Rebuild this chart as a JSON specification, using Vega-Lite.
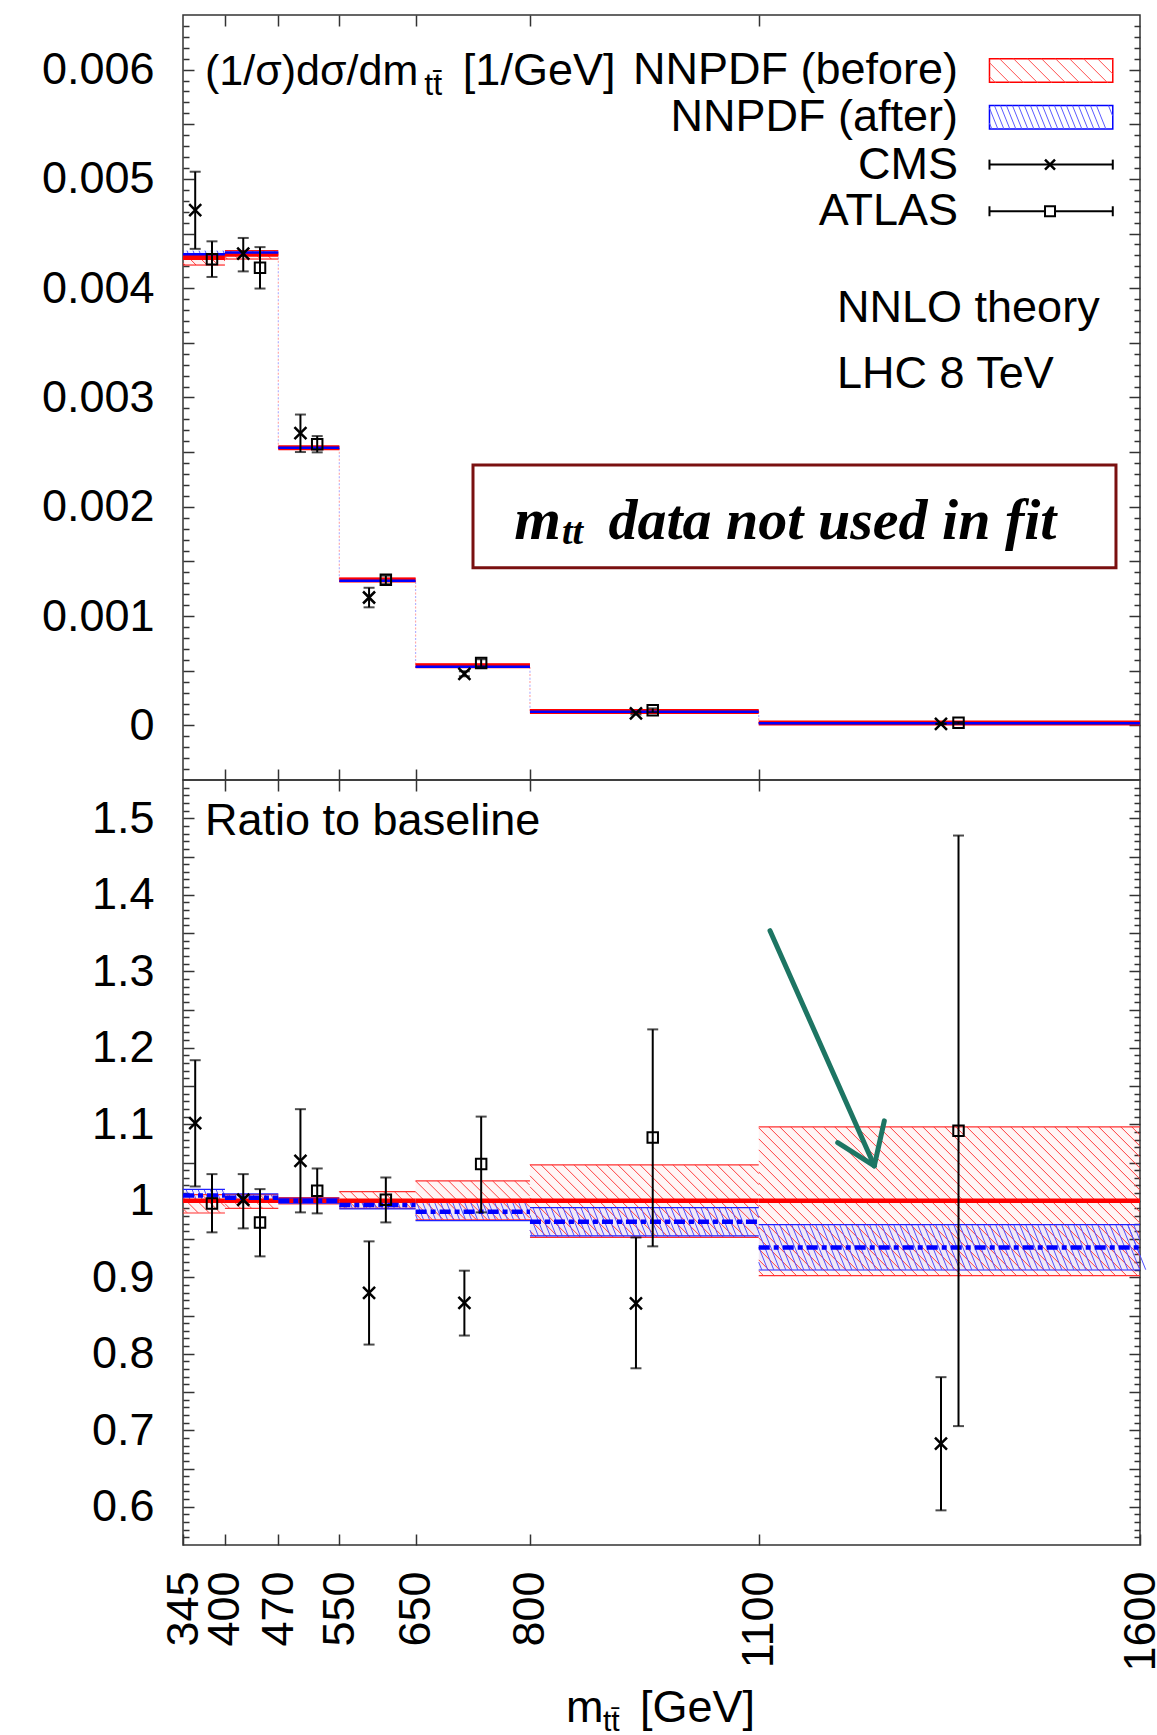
{
  "$schema": "https://vega.github.io/schema/vega-lite/v6.json",
  "autosize": {"type": "pad"},
  "padding": {"left": 40, "top": 13, "right": 18, "bottom": 4},
  "background": "white",
  "config": {
    "view": {"stroke": "#333333", "strokeWidth": 1.5},
    "font": "Liberation Sans",
    "text": {"font": "Liberation Sans", "fontSize": 45, "color": "black"},
    "point": {"opacity": 1},
    "axis": {"grid": false, "domain": false, "labelFont": "Liberation Sans", "labelFontSize": 45, "labelColor": "black", "tickColor": "#333333", "tickWidth": 1.5, "labelOverlap": false, "labelFlush": false, "labelBound": false, "minExtent": 0}
  },
  "datasets": {
    "theory": [
      {"lo": 345, "hi": 400, "b": 0.00428, "b_lo": 0.004212, "b_hi": 0.004314, "a": 0.00431, "a_lo": 0.004271, "a_hi": 0.004344, "rb_lo": 0.984, "rb_hi": 1.008, "ra": 1.007, "ra_lo": 0.998, "ra_hi": 1.015},
      {"lo": 400, "hi": 470, "b": 0.00431, "b_lo": 0.004267, "b_hi": 0.004344, "a": 0.004327, "a_lo": 0.004301, "a_hi": 0.004349, "rb_lo": 0.99, "rb_hi": 1.008, "ra": 1.004, "ra_lo": 0.998, "ra_hi": 1.009},
      {"lo": 470, "hi": 550, "b": 0.00254, "b_lo": 0.00253, "b_hi": 0.00255, "a": 0.00254, "a_lo": 0.002532, "a_hi": 0.002548, "rb_lo": 0.996, "rb_hi": 1.004, "ra": 1.0, "ra_lo": 0.997, "ra_hi": 1.003},
      {"lo": 550, "hi": 650, "b": 0.00133, "b_lo": 0.001317, "b_hi": 0.001346, "a": 0.001323, "a_lo": 0.001316, "a_hi": 0.00133, "rb_lo": 0.99, "rb_hi": 1.012, "ra": 0.9944, "ra_lo": 0.9895, "ra_hi": 1.0},
      {"lo": 650, "hi": 800, "b": 0.000545, "b_lo": 0.000531, "b_hi": 0.000559, "a": 0.000537, "a_lo": 0.000531, "a_hi": 0.000544, "rb_lo": 0.975, "rb_hi": 1.026, "ra": 0.9856, "ra_lo": 0.974, "ra_hi": 0.998},
      {"lo": 800, "hi": 1100, "b": 0.000127, "b_lo": 0.000121, "b_hi": 0.000133, "a": 0.0001235, "a_lo": 0.0001212, "a_hi": 0.0001259, "rb_lo": 0.952, "rb_hi": 1.047, "ra": 0.9726, "ra_lo": 0.954, "ra_hi": 0.991},
      {"lo": 1100, "hi": 1600, "b": 0.000021, "b_lo": 0.0000189, "b_hi": 0.000023, "a": 0.0000197, "a_lo": 0.0000191, "a_hi": 0.0000203, "rb_lo": 0.902, "rb_hi": 1.0966, "ra": 0.939, "ra_lo": 0.9095, "ra_hi": 0.9687}
    ],
    "points": [
      {"exp": "CMS", "m": 361, "v": 0.004714, "lo": 0.00436, "hi": 0.005066, "r": 1.1014, "r_lo": 1.0187, "r_hi": 1.1837},
      {"exp": "CMS", "m": 424, "v": 0.004316, "lo": 0.004154, "hi": 0.00446, "r": 1.0013, "r_lo": 0.9639, "r_hi": 1.0348},
      {"exp": "CMS", "m": 499, "v": 0.002673, "lo": 0.002501, "hi": 0.002844, "r": 1.0522, "r_lo": 0.9848, "r_hi": 1.1197},
      {"exp": "CMS", "m": 589, "v": 0.00117, "lo": 0.00108, "hi": 0.001259, "r": 0.8795, "r_lo": 0.812, "r_hi": 0.9469},
      {"exp": "CMS", "m": 714, "v": 0.000472, "lo": 0.000449, "hi": 0.000495, "r": 0.8664, "r_lo": 0.8238, "r_hi": 0.9086},
      {"exp": "CMS", "m": 939, "v": 0.00011, "lo": 0.0000992, "hi": 0.0001209, "r": 0.866, "r_lo": 0.781, "r_hi": 0.952},
      {"exp": "CMS", "m": 1339, "v": 0.0000143, "lo": 0.0000125, "hi": 0.0000162, "r": 0.6824, "r_lo": 0.5953, "r_hi": 0.7694},
      {"exp": "ATLAS", "m": 383, "v": 0.004265, "lo": 0.004103, "hi": 0.004429, "r": 0.9965, "r_lo": 0.9587, "r_hi": 1.0348},
      {"exp": "ATLAS", "m": 446, "v": 0.004188, "lo": 0.003997, "hi": 0.004376, "r": 0.9717, "r_lo": 0.9273, "r_hi": 1.0152},
      {"exp": "ATLAS", "m": 521, "v": 0.002573, "lo": 0.002498, "hi": 0.002647, "r": 1.013, "r_lo": 0.9835, "r_hi": 1.0422},
      {"exp": "ATLAS", "m": 611, "v": 0.001332, "lo": 0.001292, "hi": 0.00137, "r": 1.0013, "r_lo": 0.9717, "r_hi": 1.0304},
      {"exp": "ATLAS", "m": 736, "v": 0.000571, "lo": 0.000537, "hi": 0.000605, "r": 1.0479, "r_lo": 0.9848, "r_hi": 1.11},
      {"exp": "ATLAS", "m": 961, "v": 0.0001375, "lo": 0.0001194, "hi": 0.0001554, "r": 1.0826, "r_lo": 0.9404, "r_hi": 1.224},
      {"exp": "ATLAS", "m": 1362, "v": 0.0000229, "lo": 0.0000148, "hi": 0.000031, "r": 1.0914, "r_lo": 0.7054, "r_hi": 1.4774}
    ]
  },
  "spacing": 0,
  "bounds": "flush",
  "vconcat": [
    {
      "width": 957,
      "height": 765,
      "resolve": {"axis": {"x": "independent", "y": "independent"}},
      "layer": [
        {
          "data": {"name": "theory"},
          "mark": {"type": "rect", "fill": "#ff0000", "fillOpacity": 0.05},
          "encoding": {
            "x": {"field": "lo", "type": "quantitative", "scale": {"domain": [345, 1600], "nice": false, "zero": false},
              "axis": {"orient": "top", "values": [400, 470, 550, 650, 800, 1100], "tickSize": -11, "labels": false, "title": null}},
            "x2": {"field": "hi"},
            "y": {"field": "b_lo", "type": "quantitative", "scale": {"domain": [-0.0005, 0.0065], "nice": false, "zero": false},
              "axis": {"orient": "left", "title": null, "format": "~g", "labelPadding": 40,
                "values": [-0.0004,-0.0003,-0.0002,-0.0001,0,0.0001,0.0002,0.0003,0.0004,0.0005,0.0006,0.0007,0.0008,0.0009,0.001,0.0011,0.0012,0.0013,0.0014,0.0015,0.0016,0.0017,0.0018,0.0019,0.002,0.0021,0.0022,0.0023,0.0024,0.0025,0.0026,0.0027,0.0028,0.0029,0.003,0.0031,0.0032,0.0033,0.0034,0.0035,0.0036,0.0037,0.0038,0.0039,0.004,0.0041,0.0042,0.0043,0.0044,0.0045,0.0046,0.0047,0.0048,0.0049,0.005,0.0051,0.0052,0.0053,0.0054,0.0055,0.0056,0.0057,0.0058,0.0059,0.006,0.0061,0.0062,0.0063,0.0064],
                "tickSize": {"condition": {"test": "abs(datum.value*2000-round(datum.value*2000))<0.001", "value": -11}, "value": -6},
                "labelFontSize": {"condition": {"test": "abs(datum.value*1000-round(datum.value*1000))<0.001", "value": 45}, "value": 0},
                "labelExpr": "abs(datum.value*1000-round(datum.value*1000))<0.001 ? datum.label : ''"}},
            "y2": {"field": "b_hi"}
          }
        },
        {
          "data": {"name": "theory"},
          "mark": {"type": "rect", "fill": "#0000ff", "fillOpacity": 0.06},
          "encoding": {
            "x": {"field": "lo", "type": "quantitative", "scale": {"domain": [345, 1600], "nice": false, "zero": false},
              "axis": {"orient": "bottom", "values": [400, 470, 550, 650, 800, 1100], "tickSize": -11, "labels": false, "title": null}},
            "x2": {"field": "hi"},
            "y": {"field": "a_lo", "type": "quantitative", "scale": {"domain": [-0.0005, 0.0065], "nice": false, "zero": false},
              "axis": {"orient": "right", "title": null, "labels": false,
                "values": [-0.0004,-0.0003,-0.0002,-0.0001,0,0.0001,0.0002,0.0003,0.0004,0.0005,0.0006,0.0007,0.0008,0.0009,0.001,0.0011,0.0012,0.0013,0.0014,0.0015,0.0016,0.0017,0.0018,0.0019,0.002,0.0021,0.0022,0.0023,0.0024,0.0025,0.0026,0.0027,0.0028,0.0029,0.003,0.0031,0.0032,0.0033,0.0034,0.0035,0.0036,0.0037,0.0038,0.0039,0.004,0.0041,0.0042,0.0043,0.0044,0.0045,0.0046,0.0047,0.0048,0.0049,0.005,0.0051,0.0052,0.0053,0.0054,0.0055,0.0056,0.0057,0.0058,0.0059,0.006,0.0061,0.0062,0.0063,0.0064],
                "tickSize": {"condition": {"test": "abs(datum.value*2000-round(datum.value*2000))<0.001", "value": -11}, "value": -6}}},
            "y2": {"field": "a_hi"}
          }
        },
        {
          "data": {"name": "theory"},
          "transform": [{"filter": "datum.lo == 345"}],
          "mark": {"type": "point", "size": 4, "filled": false, "stroke": "#ff4040", "strokeWidth": 1, "opacity": 1,
            "shape": "M0,9L2,11M2,0L13,11M13,0L24,11M24,0L35,11M35,0L42,7"},
          "encoding": {
            "x": {"field": "lo", "type": "quantitative", "scale": {"domain": [345, 1600], "nice": false, "zero": false}, "axis": null},
            "y": {"field": "b_hi", "type": "quantitative", "scale": {"domain": [-0.0005, 0.0065], "nice": false, "zero": false}, "axis": null}
          }
        },
        {
          "data": {"name": "theory"},
          "transform": [{"filter": "datum.lo == 400"}],
          "mark": {"type": "point", "size": 4, "filled": false, "stroke": "#ff4040", "strokeWidth": 1, "opacity": 1,
            "shape": "M0,6L2.4,8.4M5,0L13.4,8.4M16,0L24.4,8.4M27,0L35.4,8.4M38,0L46.4,8.4M49,0L53,4"},
          "encoding": {
            "x": {"field": "lo", "type": "quantitative", "scale": {"domain": [345, 1600], "nice": false, "zero": false}, "axis": null},
            "y": {"field": "b_hi", "type": "quantitative", "scale": {"domain": [-0.0005, 0.0065], "nice": false, "zero": false}, "axis": null}
          }
        },
        {
          "data": {"name": "theory"},
          "transform": [{"filter": "datum.lo == 345"}],
          "mark": {"type": "point", "size": 4, "filled": false, "stroke": "#5050ff", "strokeWidth": 1, "opacity": 1,
            "shape": "M0,5L1.2,8M4,0l3.2,8m2.8,-8l3.2,8m2.8,-8l3.2,8m2.8,-8l3.2,8m2.8,-8l3.2,8m2.8,-8l3.2,8M40,0L42,5"},
          "encoding": {
            "x": {"field": "lo", "type": "quantitative", "scale": {"domain": [345, 1600], "nice": false, "zero": false}, "axis": null},
            "y": {"field": "a_hi", "type": "quantitative", "scale": {"domain": [-0.0005, 0.0065], "nice": false, "zero": false}, "axis": null}
          }
        },
        {
          "data": {"name": "theory"},
          "mark": {"type": "line", "interpolate": "step-after", "color": "#ff7070", "strokeWidth": 1.2, "strokeDash": [2, 5], "opacity": 0.6},
          "encoding": {
            "x": {"field": "lo", "type": "quantitative", "scale": {"domain": [345, 1600], "nice": false, "zero": false}, "axis": null},
            "y": {"field": "b", "type": "quantitative", "scale": {"domain": [-0.0005, 0.0065], "nice": false, "zero": false}, "axis": null}
          }
        },
        {
          "data": {"name": "theory"},
          "mark": {"type": "line", "interpolate": "step-after", "color": "#8080ff", "strokeWidth": 1.2, "strokeDash": [2, 5], "strokeDashOffset": 3, "opacity": 0.6},
          "encoding": {
            "x": {"field": "lo", "type": "quantitative", "scale": {"domain": [345, 1600], "nice": false, "zero": false}, "axis": null},
            "y": {"field": "a", "type": "quantitative", "scale": {"domain": [-0.0005, 0.0065], "nice": false, "zero": false}, "axis": null}
          }
        },
        {
          "data": {"name": "theory"},
          "mark": {"type": "rule", "color": "#ff0000", "strokeWidth": 1},
          "encoding": {
            "x": {"field": "lo", "type": "quantitative", "scale": {"domain": [345, 1600], "nice": false, "zero": false}, "axis": null},
            "x2": {"field": "hi"},
            "y": {"field": "b_lo", "type": "quantitative", "scale": {"domain": [-0.0005, 0.0065], "nice": false, "zero": false}, "axis": null}
          }
        },
        {
          "data": {"name": "theory"},
          "mark": {"type": "rule", "color": "#ff0000", "strokeWidth": 1},
          "encoding": {
            "x": {"field": "lo", "type": "quantitative", "scale": {"domain": [345, 1600], "nice": false, "zero": false}, "axis": null},
            "x2": {"field": "hi"},
            "y": {"field": "b_hi", "type": "quantitative", "scale": {"domain": [-0.0005, 0.0065], "nice": false, "zero": false}, "axis": null}
          }
        },
        {
          "data": {"name": "theory"},
          "mark": {"type": "rule", "color": "#ff0000", "strokeWidth": 5},
          "encoding": {
            "x": {"field": "lo", "type": "quantitative", "scale": {"domain": [345, 1600], "nice": false, "zero": false}, "axis": null},
            "x2": {"field": "hi"},
            "y": {"field": "b", "type": "quantitative", "scale": {"domain": [-0.0005, 0.0065], "nice": false, "zero": false}, "axis": null}
          }
        },
        {
          "data": {"name": "theory"},
          "mark": {"type": "rule", "color": "#0000ff", "strokeWidth": 2.5},
          "encoding": {
            "x": {"field": "lo", "type": "quantitative", "scale": {"domain": [345, 1600], "nice": false, "zero": false}, "axis": null},
            "x2": {"field": "hi"},
            "y": {"field": "a", "type": "quantitative", "scale": {"domain": [-0.0005, 0.0065], "nice": false, "zero": false}, "axis": null}
          }
        },
        {
          "data": {"name": "points"},
          "mark": {"type": "rule", "color": "black", "strokeWidth": 2},
          "encoding": {
            "x": {"field": "m", "type": "quantitative", "scale": {"domain": [345, 1600], "nice": false, "zero": false}, "axis": null},
            "y": {"field": "lo", "type": "quantitative", "scale": {"domain": [-0.0005, 0.0065], "nice": false, "zero": false}, "axis": null},
            "y2": {"field": "hi"}
          }
        },
        {
          "data": {"name": "points"},
          "mark": {"type": "tick", "orient": "horizontal", "color": "black", "size": 11, "thickness": 2},
          "encoding": {
            "x": {"field": "m", "type": "quantitative", "scale": {"domain": [345, 1600], "nice": false, "zero": false}, "axis": null},
            "y": {"field": "lo", "type": "quantitative", "scale": {"domain": [-0.0005, 0.0065], "nice": false, "zero": false}, "axis": null}
          }
        },
        {
          "data": {"name": "points"},
          "mark": {"type": "tick", "orient": "horizontal", "color": "black", "size": 11, "thickness": 2},
          "encoding": {
            "x": {"field": "m", "type": "quantitative", "scale": {"domain": [345, 1600], "nice": false, "zero": false}, "axis": null},
            "y": {"field": "hi", "type": "quantitative", "scale": {"domain": [-0.0005, 0.0065], "nice": false, "zero": false}, "axis": null}
          }
        },
        {
          "data": {"name": "points"},
          "transform": [{"filter": "datum.exp == 'CMS'"}],
          "mark": {"type": "point", "shape": "M-1,-1L1,1M1,-1L-1,1", "size": 144, "filled": false, "stroke": "black", "strokeWidth": 2.5, "opacity": 1},
          "encoding": {
            "x": {"field": "m", "type": "quantitative", "scale": {"domain": [345, 1600], "nice": false, "zero": false}, "axis": null},
            "y": {"field": "v", "type": "quantitative", "scale": {"domain": [-0.0005, 0.0065], "nice": false, "zero": false}, "axis": null}
          }
        },
        {
          "data": {"name": "points"},
          "transform": [{"filter": "datum.exp == 'ATLAS'"}],
          "mark": {"type": "point", "shape": "square", "size": 110, "filled": false, "stroke": "black", "strokeWidth": 2, "opacity": 1},
          "encoding": {
            "x": {"field": "m", "type": "quantitative", "scale": {"domain": [345, 1600], "nice": false, "zero": false}, "axis": null},
            "y": {"field": "v", "type": "quantitative", "scale": {"domain": [-0.0005, 0.0065], "nice": false, "zero": false}, "axis": null}
          }
        },
        {
          "data": {"values": [{}]},
          "mark": {"type": "text", "text": "(1/σ)dσ/dm", "align": "left", "baseline": "alphabetic", "fontSize": 43},
          "encoding": {
            "x": {"datum": 373.9, "type": "quantitative", "scale": {"domain": [345, 1600], "nice": false, "zero": false}, "axis": null},
            "y": {"datum": 0.0058628, "type": "quantitative", "scale": {"domain": [-0.0005, 0.0065], "nice": false, "zero": false}, "axis": null}
          }
        },
        {
          "data": {"values": [{}]},
          "mark": {"type": "text", "text": "tt\u0304", "align": "left", "baseline": "alphabetic", "fontSize": 32},
          "encoding": {
            "x": {"datum": 661.5, "type": "quantitative", "scale": {"domain": [345, 1600], "nice": false, "zero": false}, "axis": null},
            "y": {"datum": 0.005765, "type": "quantitative", "scale": {"domain": [-0.0005, 0.0065], "nice": false, "zero": false}, "axis": null}
          }
        },
        {
          "data": {"values": [{}]},
          "mark": {"type": "text", "text": "[1/GeV]", "align": "left", "baseline": "alphabetic", "fontSize": 45},
          "encoding": {
            "x": {"datum": 712.0, "type": "quantitative", "scale": {"domain": [345, 1600], "nice": false, "zero": false}, "axis": null},
            "y": {"datum": 0.0058628, "type": "quantitative", "scale": {"domain": [-0.0005, 0.0065], "nice": false, "zero": false}, "axis": null}
          }
        },
        {
          "data": {"values": [{}]},
          "mark": {"type": "text", "text": "NNPDF (before)", "align": "right", "baseline": "middle", "fontSize": 45},
          "encoding": {
            "x": {"datum": 1361.3, "type": "quantitative", "scale": {"domain": [345, 1600], "nice": false, "zero": false}, "axis": null},
            "y": {"datum": 0.005994, "type": "quantitative", "scale": {"domain": [-0.0005, 0.0065], "nice": false, "zero": false}, "axis": null}
          }
        },
        {
          "data": {"values": [{}]},
          "mark": {"type": "text", "text": "NNPDF (after)", "align": "right", "baseline": "middle", "fontSize": 45},
          "encoding": {
            "x": {"datum": 1361.3, "type": "quantitative", "scale": {"domain": [345, 1600], "nice": false, "zero": false}, "axis": null},
            "y": {"datum": 0.005564, "type": "quantitative", "scale": {"domain": [-0.0005, 0.0065], "nice": false, "zero": false}, "axis": null}
          }
        },
        {
          "data": {"values": [{}]},
          "mark": {"type": "text", "text": "CMS", "align": "right", "baseline": "middle", "fontSize": 45},
          "encoding": {
            "x": {"datum": 1361.3, "type": "quantitative", "scale": {"domain": [345, 1600], "nice": false, "zero": false}, "axis": null},
            "y": {"datum": 0.005131, "type": "quantitative", "scale": {"domain": [-0.0005, 0.0065], "nice": false, "zero": false}, "axis": null}
          }
        },
        {
          "data": {"values": [{}]},
          "mark": {"type": "text", "text": "ATLAS", "align": "right", "baseline": "middle", "fontSize": 45},
          "encoding": {
            "x": {"datum": 1361.3, "type": "quantitative", "scale": {"domain": [345, 1600], "nice": false, "zero": false}, "axis": null},
            "y": {"datum": 0.0047042, "type": "quantitative", "scale": {"domain": [-0.0005, 0.0065], "nice": false, "zero": false}, "axis": null}
          }
        },
        {
          "data": {"values": [{}]},
          "mark": {"type": "rect", "fill": "white", "stroke": "#ff0000", "strokeWidth": 1.5},
          "encoding": {
            "x": {"datum": 1402.6, "type": "quantitative", "scale": {"domain": [345, 1600], "nice": false, "zero": false}, "axis": null},
            "x2": {"datum": 1564.3},
            "y": {"datum": 0.0058839, "type": "quantitative", "scale": {"domain": [-0.0005, 0.0065], "nice": false, "zero": false}, "axis": null},
            "y2": {"datum": 0.0061006}
          }
        },
        {
          "data": {"values": [{}]},
          "mark": {"type": "point", "size": 4, "filled": false, "stroke": "#ff5050", "strokeWidth": 1, "opacity": 1,
            "shape": "M0,18L6,24M0,4L20,24M10,0l24,24m-10,-24l24,24m-10,-24l24,24m-10,-24l24,24m-10,-24l24,24m-10,-24l24,24m-10,-24l24,24M108,0L123,15M122,0L123,1"},
          "encoding": {
            "x": {"datum": 1402.6, "type": "quantitative", "scale": {"domain": [345, 1600], "nice": false, "zero": false}, "axis": null},
            "y": {"datum": 0.0061006, "type": "quantitative", "scale": {"domain": [-0.0005, 0.0065], "nice": false, "zero": false}, "axis": null}
          }
        },
        {
          "data": {"values": [{}]},
          "mark": {"type": "rect", "fill": "white", "stroke": "#0000ff", "strokeWidth": 1.5},
          "encoding": {
            "x": {"datum": 1402.6, "type": "quantitative", "scale": {"domain": [345, 1600], "nice": false, "zero": false}, "axis": null},
            "x2": {"datum": 1564.3},
            "y": {"datum": 0.005457, "type": "quantitative", "scale": {"domain": [-0.0005, 0.0065], "nice": false, "zero": false}, "axis": null},
            "y2": {"datum": 0.005671}
          }
        },
        {
          "data": {"values": [{}]},
          "mark": {"type": "point", "size": 4, "filled": false, "stroke": "#5a5aff", "strokeWidth": 1, "opacity": 1,
            "shape": "M0,17.5L2.4,23.4M0,2.5L8.4,23.4M5,0l9.4,23.4m-3.4,-23.4l9.4,23.4m-3.4,-23.4l9.4,23.4m-3.4,-23.4l9.4,23.4m-3.4,-23.4l9.4,23.4m-3.4,-23.4l9.4,23.4m-3.4,-23.4l9.4,23.4m-3.4,-23.4l9.4,23.4m-3.4,-23.4l9.4,23.4m-3.4,-23.4l9.4,23.4m-3.4,-23.4l9.4,23.4m-3.4,-23.4l9.4,23.4m-3.4,-23.4l9.4,23.4m-3.4,-23.4l9.4,23.4m-3.4,-23.4l9.4,23.4m-3.4,-23.4l9.4,23.4m-3.4,-23.4l9.4,23.4m-3.4,-23.4l9.4,23.4M119,0L123,10"},
          "encoding": {
            "x": {"datum": 1402.6, "type": "quantitative", "scale": {"domain": [345, 1600], "nice": false, "zero": false}, "axis": null},
            "y": {"datum": 0.005671, "type": "quantitative", "scale": {"domain": [-0.0005, 0.0065], "nice": false, "zero": false}, "axis": null}
          }
        },
        {
          "data": {"values": [{}]},
          "mark": {"type": "rule", "color": "black", "strokeWidth": 2},
          "encoding": {
            "x": {"datum": 1402.6, "type": "quantitative", "scale": {"domain": [345, 1600], "nice": false, "zero": false}, "axis": null},
            "x2": {"datum": 1564.3},
            "y": {"datum": 0.005131, "type": "quantitative", "scale": {"domain": [-0.0005, 0.0065], "nice": false, "zero": false}, "axis": null}
          }
        },
        {
          "data": {"values": [{}]},
          "mark": {"type": "rule", "color": "black", "strokeWidth": 2},
          "encoding": {
            "x": {"datum": 1402.6, "type": "quantitative", "scale": {"domain": [345, 1600], "nice": false, "zero": false}, "axis": null},
            "y": {"datum": 0.0050853, "type": "quantitative", "scale": {"domain": [-0.0005, 0.0065], "nice": false, "zero": false}, "axis": null},
            "y2": {"datum": 0.0051767}
          }
        },
        {
          "data": {"values": [{}]},
          "mark": {"type": "rule", "color": "black", "strokeWidth": 2},
          "encoding": {
            "x": {"datum": 1564.3, "type": "quantitative", "scale": {"domain": [345, 1600], "nice": false, "zero": false}, "axis": null},
            "y": {"datum": 0.0050853, "type": "quantitative", "scale": {"domain": [-0.0005, 0.0065], "nice": false, "zero": false}, "axis": null},
            "y2": {"datum": 0.0051767}
          }
        },
        {
          "data": {"values": [{}]},
          "mark": {"type": "point", "shape": "M-1,-1L1,1M1,-1L-1,1", "size": 100, "filled": false, "stroke": "black", "strokeWidth": 2.5, "opacity": 1},
          "encoding": {
            "x": {"datum": 1482, "type": "quantitative", "scale": {"domain": [345, 1600], "nice": false, "zero": false}, "axis": null},
            "y": {"datum": 0.005131, "type": "quantitative", "scale": {"domain": [-0.0005, 0.0065], "nice": false, "zero": false}, "axis": null}
          }
        },
        {
          "data": {"values": [{}]},
          "mark": {"type": "rule", "color": "black", "strokeWidth": 2},
          "encoding": {
            "x": {"datum": 1402.6, "type": "quantitative", "scale": {"domain": [345, 1600], "nice": false, "zero": false}, "axis": null},
            "x2": {"datum": 1564.3},
            "y": {"datum": 0.0047042, "type": "quantitative", "scale": {"domain": [-0.0005, 0.0065], "nice": false, "zero": false}, "axis": null}
          }
        },
        {
          "data": {"values": [{}]},
          "mark": {"type": "rule", "color": "black", "strokeWidth": 2},
          "encoding": {
            "x": {"datum": 1402.6, "type": "quantitative", "scale": {"domain": [345, 1600], "nice": false, "zero": false}, "axis": null},
            "y": {"datum": 0.0046585, "type": "quantitative", "scale": {"domain": [-0.0005, 0.0065], "nice": false, "zero": false}, "axis": null},
            "y2": {"datum": 0.0047499}
          }
        },
        {
          "data": {"values": [{}]},
          "mark": {"type": "rule", "color": "black", "strokeWidth": 2},
          "encoding": {
            "x": {"datum": 1564.3, "type": "quantitative", "scale": {"domain": [345, 1600], "nice": false, "zero": false}, "axis": null},
            "y": {"datum": 0.0046585, "type": "quantitative", "scale": {"domain": [-0.0005, 0.0065], "nice": false, "zero": false}, "axis": null},
            "y2": {"datum": 0.0047499}
          }
        },
        {
          "data": {"values": [{}]},
          "mark": {"type": "point", "shape": "square", "size": 100, "filled": true, "fill": "white", "stroke": "black", "strokeWidth": 2, "opacity": 1},
          "encoding": {
            "x": {"datum": 1482, "type": "quantitative", "scale": {"domain": [345, 1600], "nice": false, "zero": false}, "axis": null},
            "y": {"datum": 0.0047042, "type": "quantitative", "scale": {"domain": [-0.0005, 0.0065], "nice": false, "zero": false}, "axis": null}
          }
        },
        {
          "data": {"values": [{}]},
          "mark": {"type": "text", "text": "NNLO theory", "align": "left", "baseline": "middle", "fontSize": 45},
          "encoding": {
            "x": {"datum": 1202.7, "type": "quantitative", "scale": {"domain": [345, 1600], "nice": false, "zero": false}, "axis": null},
            "y": {"datum": 0.00382, "type": "quantitative", "scale": {"domain": [-0.0005, 0.0065], "nice": false, "zero": false}, "axis": null}
          }
        },
        {
          "data": {"values": [{}]},
          "mark": {"type": "text", "text": "LHC 8 TeV", "align": "left", "baseline": "middle", "fontSize": 45},
          "encoding": {
            "x": {"datum": 1202.7, "type": "quantitative", "scale": {"domain": [345, 1600], "nice": false, "zero": false}, "axis": null},
            "y": {"datum": 0.0032135, "type": "quantitative", "scale": {"domain": [-0.0005, 0.0065], "nice": false, "zero": false}, "axis": null}
          }
        },
        {
          "data": {"values": [{}]},
          "mark": {"type": "rect", "fill": "transparent", "stroke": "#7a1010", "strokeWidth": 3},
          "encoding": {
            "x": {"datum": 725.3, "type": "quantitative", "scale": {"domain": [345, 1600], "nice": false, "zero": false}, "axis": null},
            "x2": {"datum": 1568.5},
            "y": {"datum": 0.0014418, "type": "quantitative", "scale": {"domain": [-0.0005, 0.0065], "nice": false, "zero": false}, "axis": null},
            "y2": {"datum": 0.0023814}
          }
        },
        {
          "data": {"values": [{}]},
          "mark": {"type": "text", "text": "m", "align": "left", "baseline": "alphabetic", "font": "Liberation Serif", "fontStyle": "italic", "fontWeight": "bold", "fontSize": 60},
          "encoding": {
            "x": {"datum": 779.3, "type": "quantitative", "scale": {"domain": [345, 1600], "nice": false, "zero": false}, "axis": null},
            "y": {"datum": 0.0017017, "type": "quantitative", "scale": {"domain": [-0.0005, 0.0065], "nice": false, "zero": false}, "axis": null}
          }
        },
        {
          "data": {"values": [{}]},
          "mark": {"type": "text", "text": "tt", "align": "left", "baseline": "alphabetic", "font": "Liberation Serif", "fontStyle": "italic", "fontWeight": "bold", "fontSize": 38},
          "encoding": {
            "x": {"datum": 842.0, "type": "quantitative", "scale": {"domain": [345, 1600], "nice": false, "zero": false}, "axis": null},
            "y": {"datum": 0.0016589, "type": "quantitative", "scale": {"domain": [-0.0005, 0.0065], "nice": false, "zero": false}, "axis": null}
          }
        },
        {
          "data": {"values": [{}]},
          "mark": {"type": "text", "text": "data not used in fit", "align": "left", "baseline": "alphabetic", "font": "Liberation Serif", "fontStyle": "italic", "fontWeight": "bold", "fontSize": 58},
          "encoding": {
            "x": {"datum": 903.0, "type": "quantitative", "scale": {"domain": [345, 1600], "nice": false, "zero": false}, "axis": null},
            "y": {"datum": 0.0017017, "type": "quantitative", "scale": {"domain": [-0.0005, 0.0065], "nice": false, "zero": false}, "axis": null}
          }
        }
      ]
    },
    {
      "width": 957,
      "height": 765,
      "resolve": {"axis": {"x": "independent", "y": "independent"}},
      "layer": [
        {
          "data": {"name": "theory"},
          "mark": {"type": "rect", "fill": "#ff0000", "fillOpacity": 0.04},
          "encoding": {
            "x": {"field": "lo", "type": "quantitative", "scale": {"domain": [345, 1600], "nice": false, "zero": false},
              "axis": {"orient": "top", "values": [400, 470, 550, 650, 800, 1100], "tickSize": -11, "labels": false, "title": null}},
            "x2": {"field": "hi"},
            "y": {"field": "rb_lo", "type": "quantitative", "scale": {"domain": [0.55, 1.55], "nice": false, "zero": false},
              "axis": {"orient": "left", "title": null, "format": "~g", "labelPadding": 40,
                "values": [0.56,0.57,0.58,0.59,0.6,0.61,0.62,0.63,0.64,0.65,0.66,0.67,0.68,0.69,0.7,0.71,0.72,0.73,0.74,0.75,0.76,0.77,0.78,0.79,0.8,0.81,0.82,0.83,0.84,0.85,0.86,0.87,0.88,0.89,0.9,0.91,0.92,0.93,0.94,0.95,0.96,0.97,0.98,0.99,1,1.01,1.02,1.03,1.04,1.05,1.06,1.07,1.08,1.09,1.1,1.11,1.12,1.13,1.14,1.15,1.16,1.17,1.18,1.19,1.2,1.21,1.22,1.23,1.24,1.25,1.26,1.27,1.28,1.29,1.3,1.31,1.32,1.33,1.34,1.35,1.36,1.37,1.38,1.39,1.4,1.41,1.42,1.43,1.44,1.45,1.46,1.47,1.48,1.49,1.5,1.51,1.52,1.53,1.54],
                "tickSize": {"condition": {"test": "abs(datum.value*20-round(datum.value*20))<0.001", "value": -11}, "value": -6},
                "labelFontSize": {"condition": {"test": "abs(datum.value*10-round(datum.value*10))<0.001", "value": 45}, "value": 0},
                "labelExpr": "abs(datum.value*10-round(datum.value*10))<0.001 ? datum.label : ''"}},
            "y2": {"field": "rb_hi"}
          }
        },
        {
          "data": {"name": "theory"},
          "mark": {"type": "rect", "fill": "#0000ff", "fillOpacity": 0.05},
          "encoding": {
            "x": {"field": "lo", "type": "quantitative", "scale": {"domain": [345, 1600], "nice": false, "zero": false},
              "axis": {"orient": "bottom", "values": [345, 400, 470, 550, 650, 800, 1100, 1600], "format": "d", "tickSize": -11, "labelAngle": 270, "labelAlign": "right", "labelBaseline": "middle", "labelPadding": 37, "title": null}},
            "x2": {"field": "hi"},
            "y": {"field": "ra_lo", "type": "quantitative", "scale": {"domain": [0.55, 1.55], "nice": false, "zero": false},
              "axis": {"orient": "right", "title": null, "labels": false,
                "values": [0.56,0.57,0.58,0.59,0.6,0.61,0.62,0.63,0.64,0.65,0.66,0.67,0.68,0.69,0.7,0.71,0.72,0.73,0.74,0.75,0.76,0.77,0.78,0.79,0.8,0.81,0.82,0.83,0.84,0.85,0.86,0.87,0.88,0.89,0.9,0.91,0.92,0.93,0.94,0.95,0.96,0.97,0.98,0.99,1,1.01,1.02,1.03,1.04,1.05,1.06,1.07,1.08,1.09,1.1,1.11,1.12,1.13,1.14,1.15,1.16,1.17,1.18,1.19,1.2,1.21,1.22,1.23,1.24,1.25,1.26,1.27,1.28,1.29,1.3,1.31,1.32,1.33,1.34,1.35,1.36,1.37,1.38,1.39,1.4,1.41,1.42,1.43,1.44,1.45,1.46,1.47,1.48,1.49,1.5,1.51,1.52,1.53,1.54],
                "tickSize": {"condition": {"test": "abs(datum.value*20-round(datum.value*20))<0.001", "value": -11}, "value": -6}}},
            "y2": {"field": "ra_hi"}
          }
        },
        {
          "data": {"name": "theory"},
          "transform": [{"filter": "datum.lo == 345"}],
          "mark": {"type": "point", "size": 4, "filled": false, "stroke": "#ff4040", "strokeWidth": 1, "opacity": 1,
            "shape": "M0,14L4,18M0,3L15,18M8,0L26,18M19,0L37,18M30,0L42,12M41,0L42,1"},
          "encoding": {
            "x": {"field": "lo", "type": "quantitative", "scale": {"domain": [345, 1600], "nice": false, "zero": false}, "axis": null},
            "y": {"field": "rb_hi", "type": "quantitative", "scale": {"domain": [0.55, 1.55], "nice": false, "zero": false}, "axis": null}
          }
        },
        {
          "data": {"name": "theory"},
          "transform": [{"filter": "datum.lo == 400"}],
          "mark": {"type": "point", "size": 4, "filled": false, "stroke": "#ff4040", "strokeWidth": 1, "opacity": 1,
            "shape": "M0,9L5,14M2,0L16,14M13,0L27,14M24,0L38,14M35,0L49,14M46,0L53,7"},
          "encoding": {
            "x": {"field": "lo", "type": "quantitative", "scale": {"domain": [345, 1600], "nice": false, "zero": false}, "axis": null},
            "y": {"field": "rb_hi", "type": "quantitative", "scale": {"domain": [0.55, 1.55], "nice": false, "zero": false}, "axis": null}
          }
        },
        {
          "data": {"name": "theory"},
          "transform": [{"filter": "datum.lo == 470"}],
          "mark": {"type": "point", "size": 4, "filled": false, "stroke": "#ff4040", "strokeWidth": 1, "opacity": 1,
            "shape": "M0,3L3,6M8,0L14,6M19,0L25,6M30,0L36,6M41,0L47,6M52,0L58,6"},
          "encoding": {
            "x": {"field": "lo", "type": "quantitative", "scale": {"domain": [345, 1600], "nice": false, "zero": false}, "axis": null},
            "y": {"field": "rb_hi", "type": "quantitative", "scale": {"domain": [0.55, 1.55], "nice": false, "zero": false}, "axis": null}
          }
        },
        {
          "data": {"name": "theory"},
          "transform": [{"filter": "datum.lo == 550"}],
          "mark": {"type": "point", "size": 4, "filled": false, "stroke": "#ff4040", "strokeWidth": 1, "opacity": 1,
            "shape": "M0,11L6,17M0,0L17,17M11,0L28,17M22,0L39,17M33,0L50,17M44,0L61,17M55,0L72,17M66,0L76,10"},
          "encoding": {
            "x": {"field": "lo", "type": "quantitative", "scale": {"domain": [345, 1600], "nice": false, "zero": false}, "axis": null},
            "y": {"field": "rb_hi", "type": "quantitative", "scale": {"domain": [0.55, 1.55], "nice": false, "zero": false}, "axis": null}
          }
        },
        {
          "data": {"name": "theory"},
          "transform": [{"filter": "datum.lo == 650"}],
          "mark": {"type": "point", "size": 4, "filled": false, "stroke": "#ff4040", "strokeWidth": 1, "opacity": 1,
            "shape": "M0,33L6,39M0,22L17,39M0,11L28,39M0,0L39,39M11,0l39,39m-28,-39l39,39m-28,-39l39,39m-28,-39l39,39m-28,-39l39,39m-28,-39l39,39M77,0L114,37M88,0L114,26M99,0L114,15M110,0L114,4"},
          "encoding": {
            "x": {"field": "lo", "type": "quantitative", "scale": {"domain": [345, 1600], "nice": false, "zero": false}, "axis": null},
            "y": {"field": "rb_hi", "type": "quantitative", "scale": {"domain": [0.55, 1.55], "nice": false, "zero": false}, "axis": null}
          }
        },
        {
          "data": {"name": "theory"},
          "transform": [{"filter": "datum.lo == 800"}],
          "mark": {"type": "point", "size": 4, "filled": false, "stroke": "#ff4040", "strokeWidth": 1, "opacity": 1,
            "shape": "M0,66L7,73M0,55L18,73M0,44L29,73M0,33L40,73M0,22L51,73M0,11L62,73M0,0L73,73M11,0l73,73m-62,-73l73,73m-62,-73l73,73m-62,-73l73,73m-62,-73l73,73m-62,-73l73,73m-62,-73l73,73m-62,-73l73,73m-62,-73l73,73m-62,-73l73,73m-62,-73l73,73m-62,-73l73,73m-62,-73l73,73m-62,-73l73,73M165,0L229,64M176,0L229,53M187,0L229,42M198,0L229,31M209,0L229,20M220,0L229,9"},
          "encoding": {
            "x": {"field": "lo", "type": "quantitative", "scale": {"domain": [345, 1600], "nice": false, "zero": false}, "axis": null},
            "y": {"field": "rb_hi", "type": "quantitative", "scale": {"domain": [0.55, 1.55], "nice": false, "zero": false}, "axis": null}
          }
        },
        {
          "data": {"name": "theory"},
          "transform": [{"filter": "datum.lo == 1100"}],
          "mark": {"type": "point", "size": 4, "filled": false, "stroke": "#ff4040", "strokeWidth": 1, "opacity": 1,
            "shape": "M0,144L5,149M0,133L16,149M0,122L27,149M0,111L38,149M0,100L49,149M0,89L60,149M0,78L71,149M0,67L82,149M0,56L93,149M0,45L104,149M0,34L115,149M0,23L126,149M0,12L137,149M0,1L148,149M10,0l149,149m-138,-149l149,149m-138,-149l149,149m-138,-149l149,149m-138,-149l149,149m-138,-149l149,149m-138,-149l149,149m-138,-149l149,149m-138,-149l149,149m-138,-149l149,149m-138,-149l149,149m-138,-149l149,149m-138,-149l149,149m-138,-149l149,149m-138,-149l149,149m-138,-149l149,149m-138,-149l149,149m-138,-149l149,149m-138,-149l149,149m-138,-149l149,149m-138,-149l149,149M241,0L381,140M252,0L381,129M263,0L381,118M274,0L381,107M285,0L381,96M296,0L381,85M307,0L381,74M318,0L381,63M329,0L381,52M340,0L381,41M351,0L381,30M362,0L381,19M373,0L381,8"},
          "encoding": {
            "x": {"field": "lo", "type": "quantitative", "scale": {"domain": [345, 1600], "nice": false, "zero": false}, "axis": null},
            "y": {"field": "rb_hi", "type": "quantitative", "scale": {"domain": [0.55, 1.55], "nice": false, "zero": false}, "axis": null}
          }
        },
        {
          "data": {"name": "theory"},
          "transform": [{"filter": "datum.lo == 345"}],
          "mark": {"type": "point", "size": 4, "filled": false, "stroke": "#5050ff", "strokeWidth": 1, "opacity": 1,
            "shape": "M0,7.5L2.2,13M3,0l5.2,13m0.8,-13l5.2,13m0.8,-13l5.2,13m0.8,-13l5.2,13m0.8,-13l5.2,13m0.8,-13l5.2,13M39,0L42,7.5"},
          "encoding": {
            "x": {"field": "lo", "type": "quantitative", "scale": {"domain": [345, 1600], "nice": false, "zero": false}, "axis": null},
            "y": {"field": "ra_hi", "type": "quantitative", "scale": {"domain": [0.55, 1.55], "nice": false, "zero": false}, "axis": null}
          }
        },
        {
          "data": {"name": "theory"},
          "transform": [{"filter": "datum.lo == 400"}],
          "mark": {"type": "point", "size": 4, "filled": false, "stroke": "#5050ff", "strokeWidth": 1, "opacity": 1,
            "shape": "M0,5L1.2,8M4,0l3.2,8m2.8,-8l3.2,8m2.8,-8l3.2,8m2.8,-8l3.2,8m2.8,-8l3.2,8m2.8,-8l3.2,8m2.8,-8l3.2,8m2.8,-8l3.2,8M52,0L53,2.5"},
          "encoding": {
            "x": {"field": "lo", "type": "quantitative", "scale": {"domain": [345, 1600], "nice": false, "zero": false}, "axis": null},
            "y": {"field": "ra_hi", "type": "quantitative", "scale": {"domain": [0.55, 1.55], "nice": false, "zero": false}, "axis": null}
          }
        },
        {
          "data": {"name": "theory"},
          "transform": [{"filter": "datum.lo == 470"}],
          "mark": {"type": "point", "size": 4, "filled": false, "stroke": "#5050ff", "strokeWidth": 1, "opacity": 1,
            "shape": "M0,0l1.84,4.6m4.16,-4.6l1.84,4.6m4.16,-4.6l1.84,4.6m4.16,-4.6l1.84,4.6m4.16,-4.6l1.84,4.6m4.16,-4.6l1.84,4.6m4.16,-4.6l1.84,4.6m4.16,-4.6l1.84,4.6m4.16,-4.6l1.84,4.6m4.16,-4.6l1.84,4.6M60,0L61,2.5"},
          "encoding": {
            "x": {"field": "lo", "type": "quantitative", "scale": {"domain": [345, 1600], "nice": false, "zero": false}, "axis": null},
            "y": {"field": "ra_hi", "type": "quantitative", "scale": {"domain": [0.55, 1.55], "nice": false, "zero": false}, "axis": null}
          }
        },
        {
          "data": {"name": "theory"},
          "transform": [{"filter": "datum.lo == 550"}],
          "mark": {"type": "point", "size": 4, "filled": false, "stroke": "#5050ff", "strokeWidth": 1, "opacity": 1,
            "shape": "M0,5L1.2,8M4,0l3.2,8m2.8,-8l3.2,8m2.8,-8l3.2,8m2.8,-8l3.2,8m2.8,-8l3.2,8m2.8,-8l3.2,8m2.8,-8l3.2,8m2.8,-8l3.2,8m2.8,-8l3.2,8m2.8,-8l3.2,8m2.8,-8l3.2,8m2.8,-8l3.2,8"},
          "encoding": {
            "x": {"field": "lo", "type": "quantitative", "scale": {"domain": [345, 1600], "nice": false, "zero": false}, "axis": null},
            "y": {"field": "ra_hi", "type": "quantitative", "scale": {"domain": [0.55, 1.55], "nice": false, "zero": false}, "axis": null}
          }
        },
        {
          "data": {"name": "theory"},
          "transform": [{"filter": "datum.lo == 650"}],
          "mark": {"type": "point", "size": 4, "filled": false, "stroke": "#5050ff", "strokeWidth": 1, "opacity": 1,
            "shape": "M0,12.5L2.2,18M1,0l7.2,18m-1.2,-18l7.2,18m-1.2,-18l7.2,18m-1.2,-18l7.2,18m-1.2,-18l7.2,18m-1.2,-18l7.2,18m-1.2,-18l7.2,18m-1.2,-18l7.2,18m-1.2,-18l7.2,18m-1.2,-18l7.2,18m-1.2,-18l7.2,18m-1.2,-18l7.2,18m-1.2,-18l7.2,18m-1.2,-18l7.2,18m-1.2,-18l7.2,18m-1.2,-18l7.2,18m-1.2,-18l7.2,18m-1.2,-18l7.2,18M109,0L114,12.5"},
          "encoding": {
            "x": {"field": "lo", "type": "quantitative", "scale": {"domain": [345, 1600], "nice": false, "zero": false}, "axis": null},
            "y": {"field": "ra_hi", "type": "quantitative", "scale": {"domain": [0.55, 1.55], "nice": false, "zero": false}, "axis": null}
          }
        },
        {
          "data": {"name": "theory"},
          "transform": [{"filter": "datum.lo == 800"}],
          "mark": {"type": "point", "size": 4, "filled": false, "stroke": "#5050ff", "strokeWidth": 1, "opacity": 1,
            "shape": "M0,22.5L2.2,28M0,7.5L8.2,28M3,0l11.2,28m-5.2,-28l11.2,28m-5.2,-28l11.2,28m-5.2,-28l11.2,28m-5.2,-28l11.2,28m-5.2,-28l11.2,28m-5.2,-28l11.2,28m-5.2,-28l11.2,28m-5.2,-28l11.2,28m-5.2,-28l11.2,28m-5.2,-28l11.2,28m-5.2,-28l11.2,28m-5.2,-28l11.2,28m-5.2,-28l11.2,28m-5.2,-28l11.2,28m-5.2,-28l11.2,28m-5.2,-28l11.2,28m-5.2,-28l11.2,28m-5.2,-28l11.2,28m-5.2,-28l11.2,28m-5.2,-28l11.2,28m-5.2,-28l11.2,28m-5.2,-28l11.2,28m-5.2,-28l11.2,28m-5.2,-28l11.2,28m-5.2,-28l11.2,28m-5.2,-28l11.2,28m-5.2,-28l11.2,28m-5.2,-28l11.2,28m-5.2,-28l11.2,28m-5.2,-28l11.2,28m-5.2,-28l11.2,28m-5.2,-28l11.2,28m-5.2,-28l11.2,28m-5.2,-28l11.2,28M219,0L229,25M225,0L229,10"},
          "encoding": {
            "x": {"field": "lo", "type": "quantitative", "scale": {"domain": [345, 1600], "nice": false, "zero": false}, "axis": null},
            "y": {"field": "ra_hi", "type": "quantitative", "scale": {"domain": [0.55, 1.55], "nice": false, "zero": false}, "axis": null}
          }
        },
        {
          "data": {"name": "theory"},
          "transform": [{"filter": "datum.lo == 1100"}],
          "mark": {"type": "point", "size": 4, "filled": false, "stroke": "#5050ff", "strokeWidth": 1, "opacity": 1,
            "shape": "M0,37.5L3,45M0,22.5L9,45M0,7.5L15,45M3,0l18,45m-12,-45l18,45m-12,-45l18,45m-12,-45l18,45m-12,-45l18,45m-12,-45l18,45m-12,-45l18,45m-12,-45l18,45m-12,-45l18,45m-12,-45l18,45m-12,-45l18,45m-12,-45l18,45m-12,-45l18,45m-12,-45l18,45m-12,-45l18,45m-12,-45l18,45m-12,-45l18,45m-12,-45l18,45m-12,-45l18,45m-12,-45l18,45m-12,-45l18,45m-12,-45l18,45m-12,-45l18,45m-12,-45l18,45m-12,-45l18,45m-12,-45l18,45m-12,-45l18,45m-12,-45l18,45m-12,-45l18,45m-12,-45l18,45m-12,-45l18,45m-12,-45l18,45m-12,-45l18,45m-12,-45l18,45m-12,-45l18,45m-12,-45l18,45m-12,-45l18,45m-12,-45l18,45m-12,-45l18,45m-12,-45l18,45m-12,-45l18,45m-12,-45l18,45m-12,-45l18,45m-12,-45l18,45m-12,-45l18,45m-12,-45l18,45m-12,-45l18,45m-12,-45l18,45m-12,-45l18,45m-12,-45l18,45m-12,-45l18,45m-12,-45l18,45m-12,-45l18,45m-12,-45l18,45m-12,-45l18,45m-12,-45l18,45m-12,-45l18,45m-12,-45l18,45m-12,-45l18,45m-12,-45l18,45m-12,-45l18,45m-12,-45l18,45M369,0L381,30M375,0L381,15"},
          "encoding": {
            "x": {"field": "lo", "type": "quantitative", "scale": {"domain": [345, 1600], "nice": false, "zero": false}, "axis": null},
            "y": {"field": "ra_hi", "type": "quantitative", "scale": {"domain": [0.55, 1.55], "nice": false, "zero": false}, "axis": null}
          }
        },
        {
          "data": {"name": "theory"},
          "mark": {"type": "rule", "color": "#ff3030", "strokeWidth": 1.2},
          "encoding": {
            "x": {"field": "lo", "type": "quantitative", "scale": {"domain": [345, 1600], "nice": false, "zero": false}, "axis": null},
            "x2": {"field": "hi"},
            "y": {"field": "rb_lo", "type": "quantitative", "scale": {"domain": [0.55, 1.55], "nice": false, "zero": false}, "axis": null}
          }
        },
        {
          "data": {"name": "theory"},
          "mark": {"type": "rule", "color": "#ff3030", "strokeWidth": 1.2},
          "encoding": {
            "x": {"field": "lo", "type": "quantitative", "scale": {"domain": [345, 1600], "nice": false, "zero": false}, "axis": null},
            "x2": {"field": "hi"},
            "y": {"field": "rb_hi", "type": "quantitative", "scale": {"domain": [0.55, 1.55], "nice": false, "zero": false}, "axis": null}
          }
        },
        {
          "data": {"name": "theory"},
          "mark": {"type": "rule", "color": "#2020ff", "strokeWidth": 1.2},
          "encoding": {
            "x": {"field": "lo", "type": "quantitative", "scale": {"domain": [345, 1600], "nice": false, "zero": false}, "axis": null},
            "x2": {"field": "hi"},
            "y": {"field": "ra_lo", "type": "quantitative", "scale": {"domain": [0.55, 1.55], "nice": false, "zero": false}, "axis": null}
          }
        },
        {
          "data": {"name": "theory"},
          "mark": {"type": "rule", "color": "#2020ff", "strokeWidth": 1.2},
          "encoding": {
            "x": {"field": "lo", "type": "quantitative", "scale": {"domain": [345, 1600], "nice": false, "zero": false}, "axis": null},
            "x2": {"field": "hi"},
            "y": {"field": "ra_hi", "type": "quantitative", "scale": {"domain": [0.55, 1.55], "nice": false, "zero": false}, "axis": null}
          }
        },
        {
          "data": {"name": "theory"},
          "mark": {"type": "rule", "color": "#ff0000", "strokeWidth": 4.5},
          "encoding": {
            "x": {"field": "lo", "type": "quantitative", "scale": {"domain": [345, 1600], "nice": false, "zero": false}, "axis": null},
            "x2": {"field": "hi"},
            "y": {"datum": 1, "type": "quantitative", "scale": {"domain": [0.55, 1.55], "nice": false, "zero": false}, "axis": null}
          }
        },
        {
          "data": {"name": "theory"},
          "mark": {"type": "rule", "color": "#0000ff", "strokeWidth": 4.5, "strokeDash": [11, 4, 5, 4]},
          "encoding": {
            "x": {"field": "lo", "type": "quantitative", "scale": {"domain": [345, 1600], "nice": false, "zero": false}, "axis": null},
            "x2": {"field": "hi"},
            "y": {"field": "ra", "type": "quantitative", "scale": {"domain": [0.55, 1.55], "nice": false, "zero": false}, "axis": null}
          }
        },
        {
          "data": {"name": "points"},
          "mark": {"type": "rule", "color": "black", "strokeWidth": 2},
          "encoding": {
            "x": {"field": "m", "type": "quantitative", "scale": {"domain": [345, 1600], "nice": false, "zero": false}, "axis": null},
            "y": {"field": "r_lo", "type": "quantitative", "scale": {"domain": [0.55, 1.55], "nice": false, "zero": false}, "axis": null},
            "y2": {"field": "r_hi"}
          }
        },
        {
          "data": {"name": "points"},
          "mark": {"type": "tick", "orient": "horizontal", "color": "black", "size": 11, "thickness": 2},
          "encoding": {
            "x": {"field": "m", "type": "quantitative", "scale": {"domain": [345, 1600], "nice": false, "zero": false}, "axis": null},
            "y": {"field": "r_lo", "type": "quantitative", "scale": {"domain": [0.55, 1.55], "nice": false, "zero": false}, "axis": null}
          }
        },
        {
          "data": {"name": "points"},
          "mark": {"type": "tick", "orient": "horizontal", "color": "black", "size": 11, "thickness": 2},
          "encoding": {
            "x": {"field": "m", "type": "quantitative", "scale": {"domain": [345, 1600], "nice": false, "zero": false}, "axis": null},
            "y": {"field": "r_hi", "type": "quantitative", "scale": {"domain": [0.55, 1.55], "nice": false, "zero": false}, "axis": null}
          }
        },
        {
          "data": {"name": "points"},
          "transform": [{"filter": "datum.exp == 'CMS'"}],
          "mark": {"type": "point", "shape": "M-1,-1L1,1M1,-1L-1,1", "size": 144, "filled": false, "stroke": "black", "strokeWidth": 2.5, "opacity": 1},
          "encoding": {
            "x": {"field": "m", "type": "quantitative", "scale": {"domain": [345, 1600], "nice": false, "zero": false}, "axis": null},
            "y": {"field": "r", "type": "quantitative", "scale": {"domain": [0.55, 1.55], "nice": false, "zero": false}, "axis": null}
          }
        },
        {
          "data": {"name": "points"},
          "transform": [{"filter": "datum.exp == 'ATLAS'"}],
          "mark": {"type": "point", "shape": "square", "size": 110, "filled": false, "stroke": "black", "strokeWidth": 2, "opacity": 1},
          "encoding": {
            "x": {"field": "m", "type": "quantitative", "scale": {"domain": [345, 1600], "nice": false, "zero": false}, "axis": null},
            "y": {"field": "r", "type": "quantitative", "scale": {"domain": [0.55, 1.55], "nice": false, "zero": false}, "axis": null}
          }
        },
        {
          "data": {"values": [{}]},
          "mark": {"type": "text", "text": "Ratio to baseline", "align": "left", "baseline": "alphabetic", "fontSize": 45},
          "encoding": {
            "x": {"datum": 373.85, "type": "quantitative", "scale": {"domain": [345, 1600], "nice": false, "zero": false}, "axis": null},
            "y": {"datum": 1.4787, "type": "quantitative", "scale": {"domain": [0.55, 1.55], "nice": false, "zero": false}, "axis": null}
          }
        },
        {
          "data": {"values": [{}]},
          "mark": {"type": "rule", "color": "#1d7563", "strokeWidth": 5, "strokeCap": "round"},
          "encoding": {
            "x": {"datum": 1114.8, "type": "quantitative", "scale": {"domain": [345, 1600], "nice": false, "zero": false}, "axis": null},
            "x2": {"datum": 1251.6},
            "y": {"datum": 1.353, "type": "quantitative", "scale": {"domain": [0.55, 1.55], "nice": false, "zero": false}, "axis": null},
            "y2": {"datum": 1.0457}
          }
        },
        {
          "data": {"values": [{}]},
          "mark": {"type": "rule", "color": "#1d7563", "strokeWidth": 5, "strokeCap": "round"},
          "encoding": {
            "x": {"datum": 1203.6, "type": "quantitative", "scale": {"domain": [345, 1600], "nice": false, "zero": false}, "axis": null},
            "x2": {"datum": 1251.6},
            "y": {"datum": 1.0761, "type": "quantitative", "scale": {"domain": [0.55, 1.55], "nice": false, "zero": false}, "axis": null},
            "y2": {"datum": 1.0457}
          }
        },
        {
          "data": {"values": [{}]},
          "mark": {"type": "rule", "color": "#1d7563", "strokeWidth": 5, "strokeCap": "round"},
          "encoding": {
            "x": {"datum": 1251.6, "type": "quantitative", "scale": {"domain": [345, 1600], "nice": false, "zero": false}, "axis": null},
            "x2": {"datum": 1264.7},
            "y": {"datum": 1.0457, "type": "quantitative", "scale": {"domain": [0.55, 1.55], "nice": false, "zero": false}, "axis": null},
            "y2": {"datum": 1.1044}
          }
        },
        {
          "data": {"values": [{}]},
          "mark": {"type": "text", "text": "m", "align": "left", "baseline": "alphabetic", "fontSize": 45},
          "encoding": {
            "x": {"datum": 847.3, "type": "quantitative", "scale": {"domain": [345, 1600], "nice": false, "zero": false}, "axis": null},
            "y": {"datum": 0.31854, "type": "quantitative", "scale": {"domain": [0.55, 1.55], "nice": false, "zero": false}, "axis": null}
          }
        },
        {
          "data": {"values": [{}]},
          "mark": {"type": "text", "text": "tt\u0304", "align": "left", "baseline": "alphabetic", "fontSize": 30},
          "encoding": {
            "x": {"datum": 895.8, "type": "quantitative", "scale": {"domain": [345, 1600], "nice": false, "zero": false}, "axis": null},
            "y": {"datum": 0.3068, "type": "quantitative", "scale": {"domain": [0.55, 1.55], "nice": false, "zero": false}, "axis": null}
          }
        },
        {
          "data": {"values": [{}]},
          "mark": {"type": "text", "text": "[GeV]", "align": "left", "baseline": "alphabetic", "fontSize": 45},
          "encoding": {
            "x": {"datum": 944.3, "type": "quantitative", "scale": {"domain": [345, 1600], "nice": false, "zero": false}, "axis": null},
            "y": {"datum": 0.31854, "type": "quantitative", "scale": {"domain": [0.55, 1.55], "nice": false, "zero": false}, "axis": null}
          }
        }
      ]
    }
  ]
}
